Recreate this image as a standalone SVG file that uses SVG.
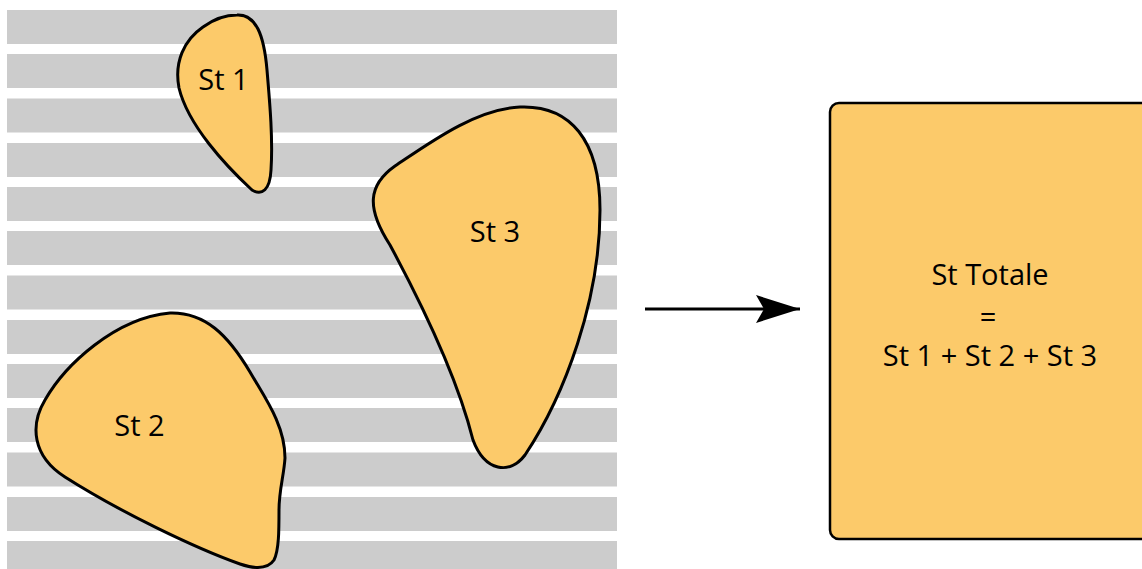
<svg xmlns="http://www.w3.org/2000/svg" width="1142" height="569" viewBox="0 0 1142 569">
  <defs>
    <style>
      .stripe { fill: #cccccc; }
      .shape { fill: #fcca6a; stroke: #000000; stroke-width: 3; stroke-linejoin: round; }
      .label { font-family: "Open Sans", "Noto Sans", sans-serif; font-size: 29px; fill: #000000; text-anchor: middle; }
      .conn { stroke: #000000; stroke-width: 3; fill: none; }
    </style>
    <marker id="arrowhead" markerUnits="userSpaceOnUse" markerWidth="48" markerHeight="32" refX="44" refY="16" orient="auto">
      <path d="M0,2 L44,16 L0,30 L8,16 Z" fill="#000000"/>
    </marker>
  </defs>

  <rect width="1142" height="569" fill="#ffffff"/>

  <!-- striped ground -->
  <g id="ground">
    <rect class="stripe" x="7" y="10" width="610" height="34"/>
    <rect class="stripe" x="7" y="54" width="610" height="34"/>
    <rect class="stripe" x="7" y="98.5" width="610" height="34"/>
    <rect class="stripe" x="7" y="143" width="610" height="34"/>
    <rect class="stripe" x="7" y="187" width="610" height="34"/>
    <rect class="stripe" x="7" y="231" width="610" height="34"/>
    <rect class="stripe" x="7" y="275.5" width="610" height="34"/>
    <rect class="stripe" x="7" y="320" width="610" height="34"/>
    <rect class="stripe" x="7" y="364" width="610" height="34"/>
    <rect class="stripe" x="7" y="408" width="610" height="34"/>
    <rect class="stripe" x="7" y="452.5" width="610" height="34"/>
    <rect class="stripe" x="7" y="497" width="610" height="34"/>
    <rect class="stripe" x="7" y="541" width="610" height="34"/>
  </g>

  <g id="st1">
    <path class="shape" d="M237,15 C256,14 264,35 267,70 C270,105 273,140 271,170 C270,190 262,196 252,190 C225,165 188,125 179,88 C174,62 184,40 203,27 C214,19 226,15 237,15 Z"/>
    <text class="label" x="223.5" y="90">St 1</text>
  </g>

  <g id="st2">
    <path class="shape" d="M170,313 C205,312 228,335 250,372 C265,398 285,425 285,458 C284,475 279,490 279,510 C279,530 279,550 274,560 C268,569 255,569 240,564 C195,548 120,512 65,477 C32,456 30,425 45,400 C65,365 115,318 170,313 Z"/>
    <text class="label" x="139.5" y="436">St 2</text>
  </g>

  <g id="st3">
    <path class="shape" d="M520,107 C570,105 600,140 600,210 C600,300 565,395 525,455 C510,475 485,472 473,440 C458,380 425,310 390,245 C366,208 368,185 395,166 C428,144 475,109 520,107 Z"/>
    <text class="label" x="495" y="242">St 3</text>
  </g>

  <g id="total">
    <rect x="830" y="103" width="330" height="436" rx="9" ry="9" fill="#fcca6a" stroke="#000000" stroke-width="2.5"/>
    <text class="label" x="990" y="285">St Totale</text>
    <text class="label" x="988" y="327">=</text>
    <text class="label" x="990" y="366">St 1 + St 2 + St 3</text>
  </g>

  <g id="connectors">
    <line class="conn" x1="645" y1="309" x2="800" y2="309" marker-end="url(#arrowhead)"/>
  </g>
</svg>
